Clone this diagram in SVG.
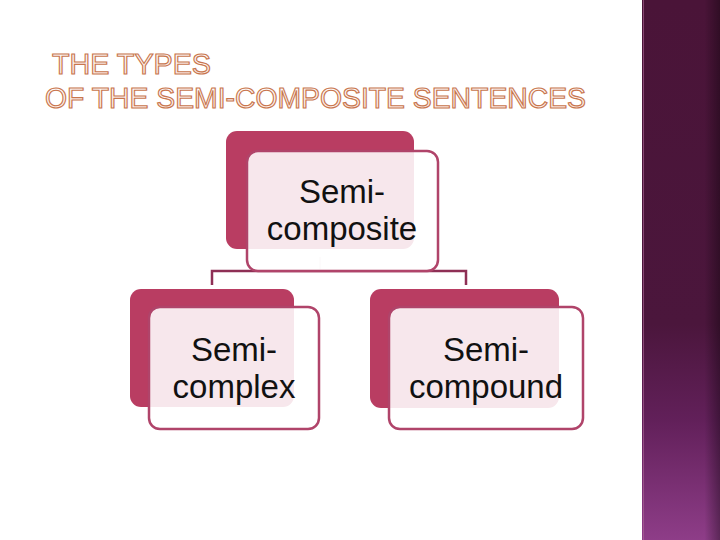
<svg xmlns="http://www.w3.org/2000/svg" width="720" height="540" viewBox="0 0 720 540">
<defs>
<linearGradient id="bar" x1="0" y1="0" x2="0" y2="1">
<stop offset="0" stop-color="#4a1438"/>
<stop offset="0.6" stop-color="#4b163c"/>
<stop offset="0.78" stop-color="#62205a"/>
<stop offset="1" stop-color="#8e3d88"/>
</linearGradient>
<linearGradient id="barShade" x1="0" y1="0" x2="1" y2="0">
<stop offset="0" stop-color="#000" stop-opacity="0"/>
<stop offset="0.8" stop-color="#000" stop-opacity="0"/>
<stop offset="1" stop-color="#000" stop-opacity="0.35"/>
</linearGradient>
<linearGradient id="titleFill" x1="0" y1="0" x2="0" y2="1">
<stop offset="0" stop-color="#ffffff"/>
<stop offset="1" stop-color="#fce8e0"/>
</linearGradient>
</defs>
<style>
.title{font-family:"Liberation Sans",Arial,sans-serif;font-size:30px;fill:url(#titleFill);stroke:#c8764e;stroke-width:1.2;}
.back{fill:#b93d62;}
.front{fill:#ffffff;fill-opacity:0.88;stroke:#b0446a;stroke-width:2.5;}
.lbl{font-family:"Liberation Sans",Arial,sans-serif;font-size:33px;fill:#111;text-anchor:middle;}
.conn{fill:none;stroke:#8e2f55;stroke-width:2.5;}
</style>
<rect width="720" height="540" fill="#ffffff"/>
<rect x="642" y="0" width="78" height="540" fill="url(#bar)"/>
<rect x="642" y="0" width="78" height="540" fill="url(#barShade)"/>
<line x1="643.5" y1="0" x2="643.5" y2="540" stroke="#b06a9a" stroke-width="1" opacity="0.6"/>

<g id="title">
<text class="title" x="52" y="74" textLength="159" lengthAdjust="spacingAndGlyphs">THE TYPES</text>
<text class="title" x="45" y="108" textLength="541" lengthAdjust="spacingAndGlyphs">OF THE SEMI-COMPOSITE SENTENCES</text>
</g>

<g id="connectors">
<path class="conn" d="M212,285 V271 H466 V285"/>
<line x1="320" y1="257" x2="320" y2="271" stroke="#d8c0ca" stroke-width="1"/>
</g>

<g id="node-semi-composite">
<rect class="back" x="226" y="131" width="188" height="118" rx="11"/>
<rect class="front" x="247" y="151" width="191" height="120" rx="11"/>
<text class="lbl" x="342" y="203">Semi-</text>
<text class="lbl" x="342" y="240">composite</text>
</g>

<g id="node-semi-complex">
<rect class="back" x="130" y="289" width="164" height="118" rx="11"/>
<rect class="front" x="149" y="307" width="170" height="122" rx="11"/>
<text class="lbl" x="234" y="361">Semi-</text>
<text class="lbl" x="234" y="398">complex</text>
</g>

<g id="node-semi-compound">
<rect class="back" x="370" y="289" width="189" height="119" rx="11"/>
<rect class="front" x="389" y="307" width="194" height="122" rx="11"/>
<text class="lbl" x="486" y="361">Semi-</text>
<text class="lbl" x="486" y="398">compound</text>
</g>
</svg>
